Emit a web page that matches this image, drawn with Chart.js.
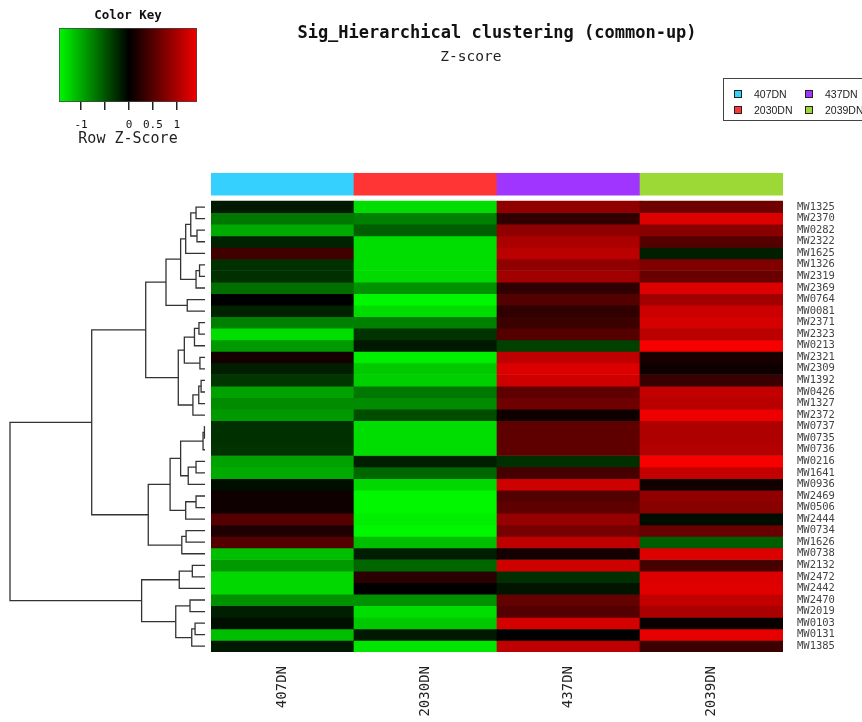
<!DOCTYPE html>
<html>
<head>
<meta charset="utf-8">
<script src="https://cdn.jsdelivr.net/npm/chart.js@4.4.1/dist/chart.umd.min.js"></script>
<style>
  body { margin: 0; background: #fff; }
  #page { position: relative; width: 862px; height: 722px; overflow: hidden; }
  #page canvas { position: absolute; left: 0; top: 0; }
  #legend {
    position: absolute; left: 723px; top: 78px; width: 150px; height: 43px;
    border: 1px solid #444; box-sizing: border-box;
    display: grid; grid-template-rows: 16px 16px; grid-auto-flow: column;
    grid-template-columns: 71px 80px; padding: 7px 0 0 10px;
    font: 10.5px 'Liberation Sans', Arial, sans-serif; color: #222;
  }
  #legend span { display: flex; align-items: center; }
  #legend i { width: 6px; height: 6px; border: 1px solid #222; margin-right: 12px; }
</style>
</head>
<body>
<div id="page">
  <canvas id="dendro" width="215" height="722"></canvas>
  <canvas id="heat" width="862" height="722"></canvas>
  <canvas id="key" width="300" height="150"></canvas>
  <div id="legend"></div>
</div>
<script>
// Sample groups (heatmap columns) and their side-bar colours
const groups = ['407DN', '2030DN', '437DN', '2039DN'];
const groupColors = ['#36D0FF', '#FF3535', '#A035FF', '#9CD936'];

// Genes in dendrogram order, top to bottom
const genes = ['MW1325', 'MW2370', 'MW0282', 'MW2322', 'MW1625', 'MW1326', 'MW2319', 'MW2369',
  'MW0764', 'MW0081', 'MW2371', 'MW2323', 'MW0213', 'MW2321', 'MW2309', 'MW1392', 'MW0426',
  'MW1327', 'MW2372', 'MW0737', 'MW0735', 'MW0736', 'MW0216', 'MW1641', 'MW0936', 'MW2469',
  'MW0506', 'MW2444', 'MW0734', 'MW1626', 'MW0738', 'MW2132', 'MW2472', 'MW2442', 'MW2470',
  'MW2019', 'MW0103', 'MW0131', 'MW1385'];

// Row z-scores, one array per group
const z407 = [-0.15, -0.7, -1.0, -0.2, 0.38, -0.28, -0.28, -0.65, 0.0, -0.2, -0.75, -1.3, -0.9,
  0.12, -0.18, -0.32, -0.95, -0.82, -0.9, -0.28, -0.28, -0.3, -0.95, -1.0, -0.08, 0.08,
  0.08, 0.5, 0.18, 0.5, -1.12, -0.9, -1.27, -1.27, -0.85, -0.18, -0.08, -1.12, -0.15];
const z2030 = [-1.3, -0.75, -0.55, -1.3, -1.3, -1.3, -1.28, -0.85, -1.45, -1.3, -0.75, -0.3, -0.15,
  -1.4, -1.18, -1.22, -0.7, -0.82, -0.45, -1.3, -1.3, -1.3, -0.18, -0.6, -1.27, -1.45,
  -1.45, -1.4, -1.45, -1.12, -0.18, -0.6, 0.25, 0.0, -0.85, -1.3, -1.18, -0.15, -1.35];
const z437 = [0.85, 0.28, 0.85, 1.0, 1.1, 0.85, 0.95, 0.28, 0.48, 0.28, 0.35, 0.5, -0.38,
  1.12, 1.3, 1.22, 0.55, 0.65, 0.08, 0.55, 0.55, 0.55, -0.28, 0.42, 1.22, 0.48,
  0.55, 0.88, 0.7, 1.12, 0.12, 1.22, -0.28, -0.12, 0.58, 0.5, 1.25, 0.0, 1.12];
const z2039 = [0.65, 1.3, 0.8, 0.5, -0.18, 0.75, 0.62, 1.3, 0.95, 1.2, 1.25, 1.1, 1.45,
  0.15, 0.08, 0.33, 1.15, 1.08, 1.4, 1.03, 1.03, 1.05, 1.45, 1.15, 0.1, 0.85,
  0.8, -0.08, 0.62, -0.55, 1.3, 0.42, 1.3, 1.32, 1.15, 1.0, 0.05, 1.35, 0.35];

// Row dendrogram, hclust style: [left, right, height]; negative = leaf row, positive = earlier merge
const merges = [
  [-20, -21, 0.03], [1, -22, 0.10], [-16, -17, 0.20], [-14, -15, 0.26], [-6, -7, 0.28],
  [-11, -12, 0.31], [3, -18, 0.32], [-3, -4, 0.41], [-1, -2, 0.46], [5, -8, 0.46],
  [-23, -24, 0.46], [-26, -27, 0.46], [-37, -38, 0.51], [6, -13, 0.54], [7, -19, 0.62],
  [-32, -33, 0.65], [13, -39, 0.68], [9, 8, 0.73], [-35, -36, 0.77], [11, -25, 0.86],
  [-9, -10, 0.91], [-29, -30, 0.97], [18, -5, 0.99], [12, -28, 0.99], [14, 4, 1.06],
  [22, -31, 1.19], [23, 10, 1.25], [2, 20, 1.25], [16, -34, 1.32], [25, 15, 1.37],
  [19, 17, 1.50], [28, 24, 1.79], [27, 21, 2.00], [32, 26, 2.91], [33, 30, 3.04],
  [29, 31, 3.25], [35, 34, 5.81], [37, 36, 10.0]
];

// Colour key
const keyMin = -1.46;
const keyMax = 1.42;
const keyTicks = [-1, -0.5, 0, 0.5, 1];
const keyLabels = ['-1', '', '0', '0.5', '1'];

const mainTitle = 'Sig_Hierarchical clustering (common-up)';
const subTitle = 'Z-score';

const mono = 'DejaVu Sans Mono';
const yTop = -2.45;          // room above the rows for the group side bar
const sideBar = [-2.43, -0.52];

Chart.defaults.font.family = mono;
Chart.defaults.color = '#222';
Chart.defaults.animation = false;

// z-score -> green / black / red
function zColor(z) {
  const c = Math.round(255 * Math.min(1, Math.abs(z) / 1.5));
  return z < 0 ? `rgb(0,${c},0)` : `rgb(${c},0,0)`;
}

// Turn merges into bracket polylines (x = height, y = row position)
function buildDendrogram() {
  const nodeY = [];
  const nodeH = [];
  const posY = (id) => (id < 0 ? -id - 0.5 : nodeY[id - 1]);
  const posH = (id) => (id < 0 ? 0 : nodeH[id - 1]);
  return merges.map(([a, b, h], i) => {
    const ya = posY(a);
    const yb = posY(b);
    nodeY[i] = (ya + yb) / 2;
    nodeH[i] = h;
    return [{ x: posH(a), y: ya }, { x: h, y: ya }, { x: h, y: yb }, { x: posH(b), y: yb }];
  });
}

// Dendrogram
new Chart(document.getElementById('dendro'), {
  type: 'scatter',
  data: {
    datasets: buildDendrogram().map(pts => ({
      data: pts,
      showLine: true,
      borderColor: '#333',
      borderWidth: 1.3,
      pointRadius: 0,
      tension: 0,
      clip: false
    }))
  },
  options: {
    responsive: false,
    devicePixelRatio: 1,
    layout: { padding: { left: 10, right: 10, top: 173, bottom: 70 } },
    plugins: { legend: { display: false }, tooltip: { enabled: false } },
    scales: {
      x: { type: 'linear', reverse: true, min: 0, max: 10, display: false },
      y: { type: 'linear', reverse: true, min: yTop, max: genes.length, display: false }
    }
  }
});

// Heatmap: one floating-bar dataset per gene row, plus the group side bar
const zByGroup = [z407, z2030, z437, z2039];
const heatSets = genes.map((g, r) => ({
  label: g,
  data: groups.map(() => [r, r + 1]),
  backgroundColor: zByGroup.map(col => zColor(col[r]))
}));
heatSets.push({
  label: 'groups',
  data: groups.map(() => sideBar),
  backgroundColor: groupColors
});

new Chart(document.getElementById('heat'), {
  type: 'bar',
  data: { labels: groups, datasets: heatSets },
  options: {
    responsive: false,
    devicePixelRatio: 1,
    grouped: false,
    barPercentage: 1,
    categoryPercentage: 1,
    borderWidth: 0,
    layout: { padding: { left: 211, right: 0, top: 0, bottom: 0 } },
    plugins: {
      legend: { display: false },
      tooltip: { enabled: false },
      title: {
        display: true,
        text: mainTitle,
        fullSize: false,
        color: '#111',
        font: { family: mono, size: 17, weight: 'bold' },
        padding: { top: 23, bottom: 0 }
      },
      subtitle: {
        display: true,
        text: subTitle + '      ',
        fullSize: false,
        color: '#222',
        font: { family: mono, size: 14.5 },
        padding: { top: 5, bottom: 107 }
      }
    },
    scales: {
      x: {
        grid: { display: false, drawTicks: false },
        border: { display: false },
        ticks: {
          minRotation: 90,
          maxRotation: 90,
          padding: 14,
          color: '#222',
          font: { family: mono, size: 14 }
        },
        afterFit: (scale) => { scale.height = 70; }
      },
      y: {
        position: 'right',
        reverse: true,
        min: yTop,
        max: genes.length,
        grid: { display: false, drawTicks: false },
        border: { display: false },
        afterBuildTicks: (scale) => { scale.ticks = genes.map((g, i) => ({ value: i + 0.5 })); },
        ticks: {
          autoSkip: false,
          padding: 14,
          color: '#444',
          font: { family: mono, size: 10.5 },
          callback: (v) => genes[Math.floor(v)]
        },
        afterFit: (scale) => { scale.width = 79; }
      }
    }
  }
});

// Colour key
new Chart(document.getElementById('key'), {
  type: 'bar',
  data: {
    labels: ['key'],
    datasets: [{
      data: [[keyMin, keyMax]],
      borderWidth: 1,
      borderColor: '#444',
      borderSkipped: false,
      backgroundColor: (ctx) => {
        const area = ctx.chart.chartArea;
        if (!area) return '#000';
        const g = ctx.chart.ctx.createLinearGradient(area.left, 0, area.right, 0);
        g.addColorStop(0, zColor(keyMin));
        g.addColorStop((0 - keyMin) / (keyMax - keyMin), '#000');
        g.addColorStop(1, zColor(keyMax));
        return g;
      }
    }]
  },
  options: {
    responsive: false,
    devicePixelRatio: 1,
    indexAxis: 'y',
    barPercentage: 1,
    categoryPercentage: 1,
    layout: { padding: { left: 59, right: 103, top: 0, bottom: 0 } },
    plugins: {
      legend: { display: false },
      tooltip: { enabled: false },
      title: {
        display: true,
        text: 'Color Key',
        color: '#111',
        font: { family: mono, size: 12.5, weight: 'bold' },
        padding: { top: 8.5, bottom: 4.5 }
      }
    },
    scales: {
      x: {
        type: 'linear',
        min: keyMin,
        max: keyMax,
        grid: { drawOnChartArea: false, drawTicks: true, tickLength: 8, color: '#222', lineWidth: 1.5 },
        border: { display: false },
        afterBuildTicks: (scale) => { scale.ticks = keyTicks.map(v => ({ value: v })); },
        ticks: {
          autoSkip: false,
          maxRotation: 0,
          padding: 9,
          color: '#111',
          font: { family: mono, size: 11 },
          callback: (v) => keyLabels[keyTicks.indexOf(v)]
        },
        title: {
          display: true,
          text: 'Row Z-Score',
          color: '#222',
          font: { family: mono, size: 15 },
          padding: { top: 0, bottom: 2 }
        },
        afterFit: (scale) => { scale.height = 48; }
      },
      y: { display: false }
    }
  }
});

// Group legend
const legend = document.getElementById('legend');
groups.forEach((g, i) => {
  const item = document.createElement('span');
  item.innerHTML = `<i style="background:${groupColors[i]}"></i>${g}`;
  legend.appendChild(item);
});
</script>
</body>
</html>
